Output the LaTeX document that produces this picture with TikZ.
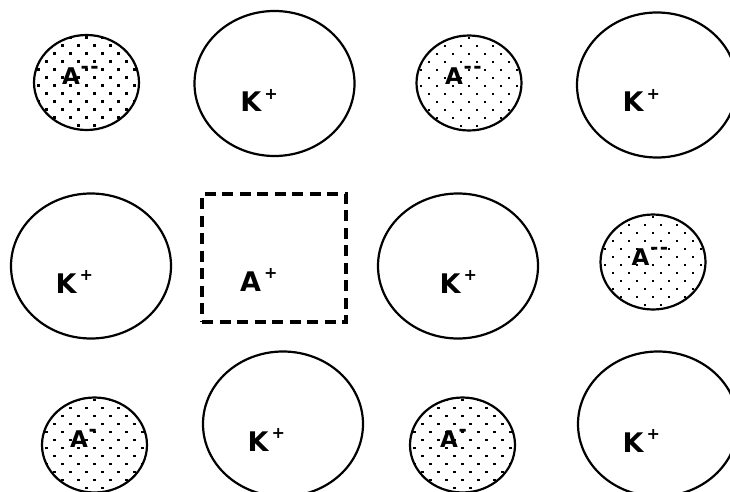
\documentclass[tikz,border=0pt]{standalone}
\usepackage{fontspec}
\setmainfont{DejaVu Sans}
\usetikzlibrary{shapes.geometric}
\newcommand\ionplus{\hspace{3pt}\raisebox{12.2pt}{\fontsize{16}{16}\selectfont +}}
\newcommand\iondash{\hspace{0.6pt}\raisebox{11pt}{\fontsize{20}{20}\selectfont -}}
\newcommand\iondashes{\hspace{0.6pt}\raisebox{11pt}{\fontsize{20}{20}\selectfont -\hspace{1.5pt}-}}
\tikzset{
  anion/.style={ellipse, draw, line width=2.2pt, inner sep=0pt,
    minimum width=105pt, minimum height=95pt,
    path picture={\begin{scope}[shift={(path picture bounding box.center)}]
      \foreach \j in {-7,...,7} {
        \pgfmathsetmacro\off{8*mod(abs(\j),2)}
        \foreach \i in {-4,...,4}
          \fill (16*\i+\off-1.4, 8*\j+3-1.4) rectangle ++(2.8,2.8);
      }
    \end{scope}}},
  cation/.style={ellipse, draw, line width=2.2pt, inner sep=0pt,
    minimum width=160pt, minimum height=145pt},
  vacancy/.style={draw, line width=3.2pt, dash pattern=on 11pt off 6.5pt, inner sep=0pt,
    minimum width=144pt, minimum height=128pt},
  lbl/.style={font=\bfseries\fontsize{27}{27}\selectfont, inner sep=0pt, anchor=base west},
  slbl/.style={font=\bfseries\fontsize{23}{23}\selectfont, inner sep=0pt, anchor=base west}
}
\begin{document}
\begin{tikzpicture}[x=1pt,y=-1pt]
\path[use as bounding box, clip] (0,0) rectangle (730,492);
% row 1
\node[anion]  (a1) at (86.5,82.5) {};
\node[cation] (k1) at (274.5,83.5) {};
\node[anion]  (a2) at (469,83) {};
\node[cation] (k2) at (657,85) {};
% row 2
\node[cation]  (k3) at (91,266) {};
\node[vacancy] (v1) at (274,258) {};
\node[cation]  (k4) at (458,266) {};
\node[anion]   (a3) at (653,262) {};
% row 3
\node[anion]  (a4) at (94.5,445) {};
\node[cation] (k5) at (283,424) {};
\node[anion]  (a5) at (462.5,445) {};
\node[cation] (k6) at (658,424) {};
% labels
\node[slbl] (la1) at (62,85) {A\iondashes};
\node[lbl]  (lk1) at (240.2,112) {K\ionplus};
\node[slbl] (la2) at (445,85) {A\iondashes};
\node[lbl]  (lk2) at (622.5,112) {K\ionplus};
\node[lbl]  (lk3) at (55.5,293) {K\ionplus};
\node[lbl]  (lv1) at (240,291) {A\ionplus};
\node[lbl]  (lk4) at (439.5,293) {K\ionplus};
\node[slbl] (la3) at (631.5,265) {A\iondashes};
\node[slbl] (la4) at (70,447) {A\iondash};
\node[lbl]  (lk5) at (247.5,451) {K\ionplus};
\node[slbl] (la5) at (440,447) {A\iondash};
\node[lbl]  (lk6) at (622.5,452) {K\ionplus};
\end{tikzpicture}
\end{document}
